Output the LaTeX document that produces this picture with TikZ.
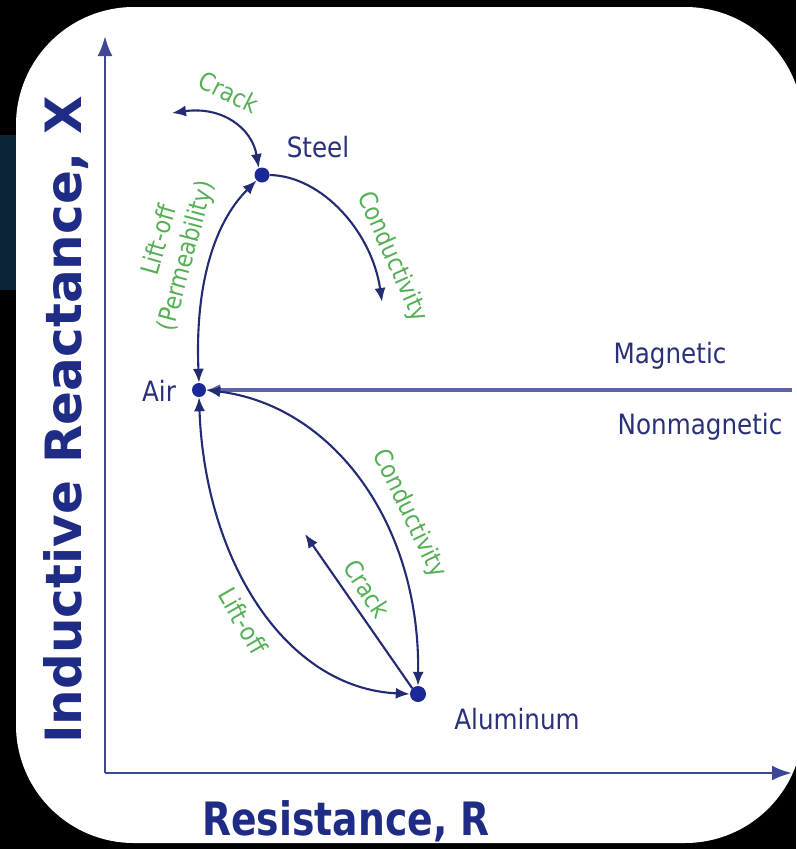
\documentclass[tikz,border=0pt]{standalone}
\usepackage{fontspec}
\usetikzlibrary{arrows.meta}
\newfontfamily\lblfont[FakeStretch=0.88]{DejaVu Sans}
\newfontfamily\axfont{DejaVu Sans}
\newfontfamily\axxfont[FakeStretch=0.82]{DejaVu Sans}
\definecolor{navytext}{HTML}{2A3178}
\definecolor{boldnavy}{HTML}{1F2C85}
\definecolor{linenavy}{HTML}{232B72}
\definecolor{dotblue}{HTML}{1A2898}
\definecolor{axisblue}{HTML}{3E4696}
\definecolor{magblue}{HTML}{5C63AC}
\definecolor{glabel}{HTML}{55B055}
\definecolor{band}{HTML}{0B2438}
\begin{document}
\begin{tikzpicture}[x=1pt,y=-1pt,
  >={Latex[length=14pt,width=11pt]},
  dot/.style={circle,fill=dotblue,inner sep=0pt,minimum size=#1},
  dot/.default=15pt,
  curve/.style={draw=linenavy,line width=2.1pt},
  axisline/.style={draw=axisblue,line width=2.8pt},
  magline/.style={draw=magblue,line width=3.8pt},
  mattxt/.style={text=navytext,font=\lblfont\fontsize{28}{30}\selectfont,inner sep=0pt},
  gtxt/.style={text=glabel,font=\lblfont\fontsize{25}{27}\selectfont,inner sep=0pt},
  axtxt/.style={text=boldnavy,inner sep=0pt}
  ]
\useasboundingbox (0,0) rectangle (796,849);
\clip (0,0) rectangle (796,849);
% background
\fill[black] (0,0) rectangle (796,849);
\fill[band] (0,135) rectangle (60,290);
\fill[white,rounded corners=118pt] (16,7) rectangle (803,843);

% axes
\coordinate (O) at (105,773);
\coordinate (ytop) at (105,36);
\coordinate (xend) at (792,773);
\draw[axisline,-{Latex[length=20pt,width=15pt]}] (O) -- (ytop);
\draw[axisline,-{Latex[length=20pt,width=15pt]}] (O) -- (xend);

\node[axtxt,rotate=90,font=\axfont\bfseries\fontsize{50}{52}\selectfont] (ylab) at (66,420) {Inductive Reactance, X};
\node[axtxt,font=\axxfont\bfseries\fontsize{46}{48}\selectfont] (xlab) at (346,821) {Resistance, R};

% material points
\node[dot] (Steel) at (262,175) {};
\node[dot=14pt] (Air) at (199,390) {};
\node[dot=16pt] (Al) at (418,694) {};

\node[mattxt] (steeltxt) at (318,147) {Steel};
\node[mattxt] (airtxt) at (159,391) {Air};
\node[mattxt] (altxt) at (517,719) {Aluminum};
\node[mattxt] (magtxt) at (670,356) {Magnetic};
\node[mattxt] (nonmagtxt) at (700,427) {Nonmagnetic};

% magnetic / nonmagnetic divider
\coordinate (mr) at (792,390);
\draw[magline,-{Latex[length=14pt,width=12pt]}] (mr) -- (Air.east);

% curves
\coordinate (ck) at (172,113);
\draw[curve,<->] (ck) .. controls (222,106) and (252,128) .. (Steel.115);
\draw[curve,<->] (Air.north) .. controls (195,290) and (212,225) .. (Steel.south west);
\coordinate (cs) at (382,302);
\draw[curve,->] (Steel.east) .. controls (322,176) and (372,232) .. (cs);
\draw[curve,<->] (Air.east) .. controls (330,405) and (420,520) .. (Al.north);
\draw[curve,<->] (Air.south) .. controls (205,560) and (285,688) .. (Al.west);
\coordinate (cr) at (305,534);
\draw[curve,->] (Al.north west) -- (cr);

% green labels
\node[gtxt,rotate=-27] (g1) at (229,92) {Crack};
\node[gtxt,rotate=74] (g2) at (158,240) {Lift-off};
\node[gtxt,rotate=75] (g3) at (187,256) {(Permeability)};
\node[gtxt,rotate=-66] (g4) at (392,257) {Conductivity};
\node[gtxt,rotate=-64] (g5) at (409,514) {Conductivity};
\node[gtxt,rotate=-57] (g6) at (367,589) {Crack};
\node[gtxt,rotate=-60] (g7) at (243,621) {Lift-off};
\end{tikzpicture}
\end{document}
